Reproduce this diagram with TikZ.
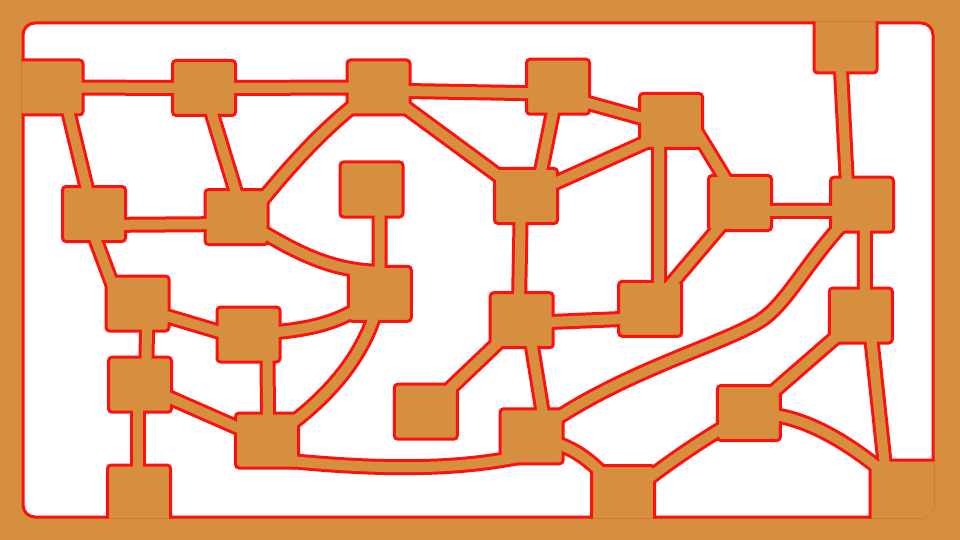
\documentclass[tikz,border=0pt]{standalone}
\usetikzlibrary{calc}
\definecolor{wood}{HTML}{D58F3E}
\definecolor{cut}{HTML}{FF1010}
\pgfdeclarelayer{board}
\pgfdeclarelayer{rims}
\pgfsetlayers{board,rims,main}

\newcommand{\tracks}[1]{%
  \draw[#1] (A.center) -- (B.center) -- (C.center);
  \draw[#1] ($(C.center)+(0,3)$) -- ($(G.center)+(0,7)$);
  \draw[#1] ($(A.center)+(16,0)$) -- ($(D.center)+(-1,0)$);
  \draw[#1] (B.center) -- ($(E.center)+(7,0)$);
  \draw[#1] (C.center) .. controls (330,120) and (290,165) .. ($(E.center)+(12,0)$);
  \draw[#1] (C.center) -- (J.center);
  \draw[#1] ($(G.center)+(0,8)$) -- ($(H.center)+(0,5)$);
  \draw[#1] (G.center) -- ($(J.center)+(10,0)$);
  \draw[#1] (J.center) -- ($(H.center)+(0,10)$);
  \draw[#1] ($(H.center)+(22,5)$) -- (K.center);
  \draw[#1] ($(K.center)+(0,8)$) -- ($(L.center)+(0,6)$);
  \draw[#1] ($(I.center)+(-6,0)$) -- ($(L.center)+(-14,0)$);
  \draw[#1] ($(L.center)+(3,0)$) -- ($(V.center)+(4,0)$);
  \draw[#1] (L.center) .. controls (812,250) and (790,302) .. (760,321)
    .. controls (720,346) and (610,375) .. (W.center);
  \draw[#1] ($(H.center)+(-12,0)$) -- ($(U.center)+(9,0)$);
  \draw[#1] (K.center) -- (U.center);
  \draw[#1] ($(J.center)+(-5,0)$) -- ($(T.center)+(-3,0)$);
  \draw[#1] ($(T.center)+(0,3)$) -- ($(U.center)+(0,9)$);
  \draw[#1] ($(T.center)+(6,0)$) -- ($(W.center)+(15,0)$);
  \draw[#1] (T.center) -- (S.center);
  \draw[#1] ($(D.center)+(0,11)$) -- ($(E.center)+(0,7)$);
  \draw[#1] ($(D.center)+(-8,0)$) -- ($(M.center)+(-18,0)$);
  \draw[#1] (E.center) .. controls (281,242) and (320,271) .. ($(O.center)+(0,-22)$);
  \draw[#1] ($(F.center)+(8,0)$) -- (O.center);
  \draw[#1] ($(M.center)+(0,4)$) -- ($(N.center)+(0,6)$);
  \draw[#1] ($(M.center)+(10,0)$) -- ($(P.center)+(6,0)$);
  \draw[#1] (N.center) .. controls (310,330) and (340,325) .. (O.center);
  \draw[#1] ($(N.center)+(19,0)$) -- ($(Q.center)+(1,0)$);
  \draw[#1] (O.center) .. controls (370,350) and (330,400) .. (Q.center);
  \draw[#1] (P.center) -- (Q.center);
  \draw[#1] ($(P.center)+(-2,0)$) -- ($(R.center)+(-1,0)$);
  \draw[#1] ($(Q.center)+(18,20)$) .. controls (400,472) and (470,468) .. ($(W.center)+(0,18)$);
  \draw[#1] (W.center) .. controls (570,445) and (590,455) .. (Y.center);
  \draw[#1] (Y.center) .. controls (665,465) and (700,440) .. (X.center);
  \draw[#1] (X.center) -- (V.center);
  \draw[#1] (X.center) .. controls (800,412) and (850,440) .. (Z.center);
  \draw[#1] ($(V.center)+(8,0)$) -- ($(Z.center)+(-22,0)$);
}

\begin{document}
\begin{tikzpicture}[
  x=1pt, y=-1pt,
  pad/.style={draw=cut, line width=3pt, fill=wood, rounded corners=3.5pt, inner sep=0pt, minimum width=63pt, minimum height=55pt},
  rimline/.style={draw=cut, line width=16pt, line join=round},
  coreline/.style={draw=wood, line width=10pt, line join=round}
]
\useasboundingbox (0,0) rectangle (960,540);
\begin{pgfonlayer}{board}
\fill[wood] (0,0) rectangle (960,540);
\draw[cut, line width=3pt, fill=white, rounded corners=12pt] (23,23) rectangle (933,517);
\end{pgfonlayer}
\begin{scope}
\clip[rounded corners=13.5pt] (21.5,21.5) rectangle (934.5,518.5);
\node[pad, minimum width=73pt] (A) at (46.5,87.5) {};
\node[pad] (B) at (204,88) {};
\node[pad] (C) at (378.5,87.5) {};
\node[pad] (G) at (558,86.7) {};
\node[pad] (H) at (671,121) {};
\node[pad, minimum height=63pt] (I) at (845.5,41.5) {};
\node[pad] (D) at (94,214) {};
\node[pad] (E) at (236.5,217) {};
\node[pad] (F) at (371.5,189.5) {};
\node[pad] (J) at (526,196) {};
\node[pad] (K) at (740,203) {};
\node[pad] (L) at (862,204.7) {};
\node[pad] (M) at (137.5,303.5) {};
\node[pad] (N) at (248.5,334.5) {};
\node[pad] (O) at (379.8,293.8) {};
\node[pad] (T) at (521.7,320.2) {};
\node[pad] (U) at (650.2,308.8) {};
\node[pad] (V) at (860.8,315.5) {};
\node[pad] (P) at (140,384.7) {};
\node[pad] (Q) at (267,440.5) {};
\node[pad] (S) at (425.8,411.7) {};
\node[pad] (W) at (531.6,436.3) {};
\node[pad] (X) at (748.8,413) {};
\node[pad, minimum height=65pt] (R) at (139,497.5) {};
\node[pad, minimum height=65pt] (Y) at (623,498) {};
\node[pad, minimum width=80pt, minimum height=70pt] (Z) at (910,495) {};
\begin{pgfonlayer}{rims}
\tracks{rimline}
\end{pgfonlayer}
\tracks{coreline}
\end{scope}
\end{tikzpicture}
\end{document}
